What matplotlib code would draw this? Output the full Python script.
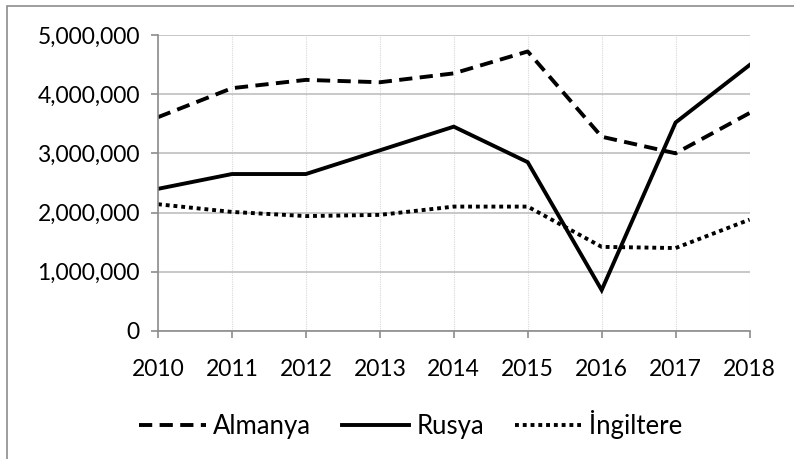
"""Almanya / Rusya / İngiltere line chart, 2010-2018."""
import matplotlib
matplotlib.use("Agg")
import matplotlib.pyplot as plt
from matplotlib.patches import Rectangle
from matplotlib.ticker import FuncFormatter

years = [2010, 2011, 2012, 2013, 2014, 2015, 2016, 2017, 2018]
almanya = [3610000, 4100000, 4240000, 4200000, 4350000, 4720000, 3280000, 3000000, 3680000]
rusya = [2400000, 2650000, 2650000, 3050000, 3450000, 2850000, 690000, 3520000, 4490000]
ingiltere = [2140000, 2010000, 1940000, 1960000, 2100000, 2100000, 1420000, 1400000, 1880000]
series_names = ["Almanya", "Rusya", "İngiltere"]

plt.rcParams["font.family"] = ["Lato", "DejaVu Sans"]

fig = plt.figure(figsize=(7.94, 4.59), dpi=100)
ax = fig.add_axes([0.199, 0.279, 0.745, 0.645])

# outer frame (cut off on the right and bottom like the source)
fig.patches.append(Rectangle((7 / 794, -0.05), 1.2, 1 - 6 / 459 + 0.05,
                             transform=fig.transFigure, fill=False,
                             edgecolor="#8c8c8c", linewidth=1.2))

lw = 2.8
ax.plot(years, almanya, color="black", lw=lw, linestyle=(0, (3.4, 1.9)),
        dash_capstyle="butt", label=series_names[0])
ax.plot(years, rusya, color="black", lw=lw, solid_joinstyle="miter",
        label=series_names[1])
ax.plot(years, ingiltere, color="black", lw=lw, linestyle=(0, (1, 1)),
        dash_capstyle="butt", label=series_names[2])

ax.set_xlim(2010, 2018)
ax.set_ylim(0, 5000000)
ax.set_xticks(years)
ax.set_yticks(range(0, 5000001, 1000000))
ax.yaxis.set_major_formatter(FuncFormatter(lambda v, p: f"{int(v):,}"))

ax.grid(axis="y", color="#bfbfbf", lw=1.2)
ax.grid(axis="x", color="#d9d9d9", lw=0.8, linestyle=(0, (1, 1)))
ax.set_axisbelow(True)
for s in ["top", "right"]:
    ax.spines[s].set_visible(False)
for s in ["left", "bottom"]:
    ax.spines[s].set_color("#8c8c8c")
    ax.spines[s].set_linewidth(1.2)
ax.tick_params(axis="both", colors="#8c8c8c", length=5, width=1.2,
               labelsize=16.5, labelcolor="black")
ax.tick_params(axis="x", pad=15)
ax.tick_params(axis="y", pad=8)

ax.legend(loc="center", bbox_to_anchor=(0.102, -0.365, 0.65, 0.1), ncol=3,
          frameon=False, fontsize=18.5, handlelength=2.6, handletextpad=0.28,
          columnspacing=1.2, borderaxespad=0)

fig.savefig("out.png", dpi=100)
